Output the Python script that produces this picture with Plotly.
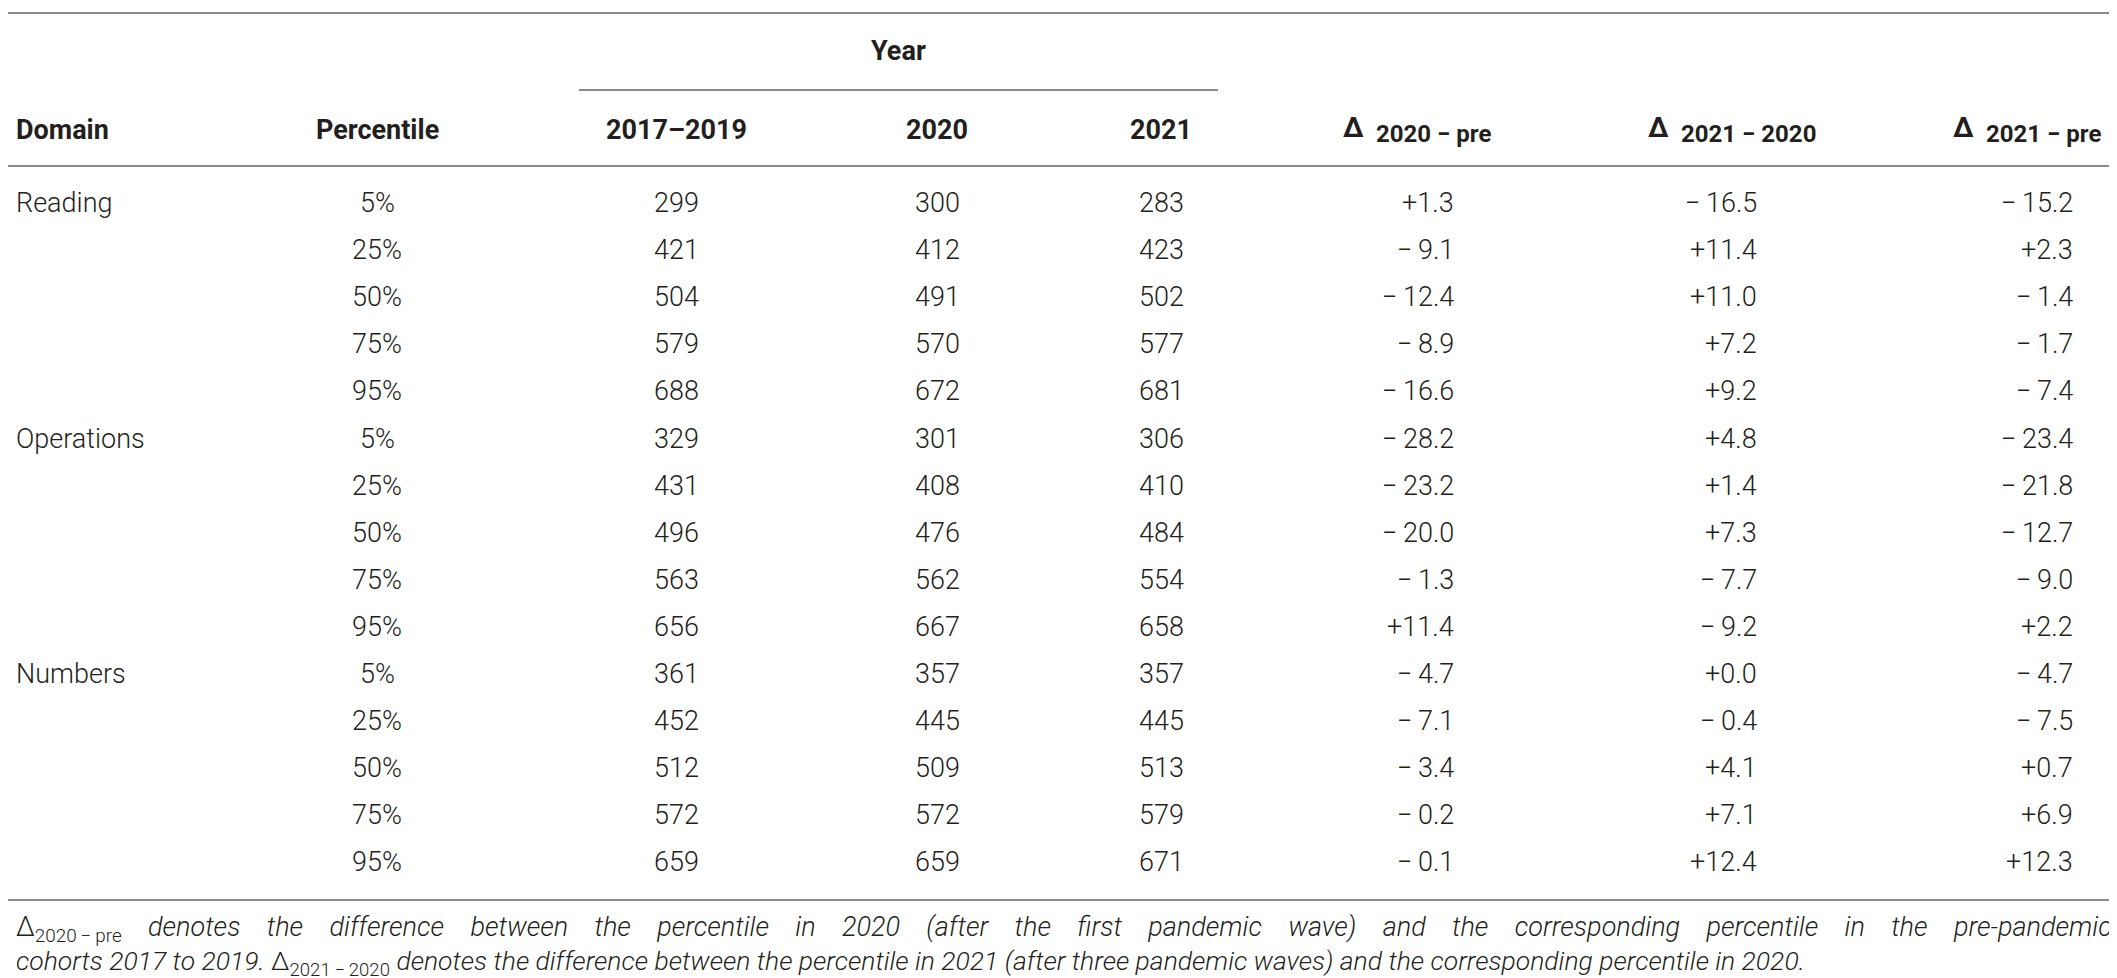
import plotly.graph_objects as go

# ---------------- data ----------------
domains = ["Reading", "Operations", "Numbers"]
percentiles = ["5%", "25%", "50%", "75%", "95%"]
year_labels = ["2017–2019", "2020", "2021"]
delta_labels = ["2020 – pre", "2021 – 2020", "2021 – pre"]

pre_2017_2019 = [299, 421, 504, 579, 688, 329, 431, 496, 563, 656, 361, 452, 512, 572, 659]
y2020 = [300, 412, 491, 570, 672, 301, 408, 476, 562, 667, 357, 445, 509, 572, 659]
y2021 = [283, 423, 502, 577, 681, 306, 410, 484, 554, 658, 357, 445, 513, 579, 671]
d_2020_pre = [1.3, -9.1, -12.4, -8.9, -16.6, -28.2, -23.2, -20.0, -1.3, 11.4, -4.7, -7.1, -3.4, -0.2, -0.1]
d_2021_2020 = [-16.5, 11.4, 11.0, 7.2, 9.2, 4.8, 1.4, 7.3, -7.7, -9.2, 0.0, -0.4, 4.1, 7.1, 12.4]
d_2021_pre = [-15.2, 2.3, -1.4, -1.7, -7.4, -23.4, -21.8, -12.7, -9.0, 2.2, -4.7, -7.5, 0.7, 6.9, 12.3]

footnote_1 = ("denotes the difference between the percentile in 2020 (after the first pandemic wave) "
              "and the corresponding percentile in the pre-pandemic")
footnote_2a = "cohorts 2017 to 2019."
footnote_2b = "denotes the difference between the percentile in 2021 (after three pandemic waves) and the corresponding percentile in 2020."

# ---------------- style / layout ----------------
W, H = 2117, 978
FONT = "Roboto"
TXT = "#231f20"
LINE = "#8a8a8a"
FS = 27

ROW0, STEP = 195, 47.1
X_DOMAIN = 6
X_PCT = 369
X_YEARS = [668, 929, 1153]
X_DELTA_HDR = [1410, 1715, 2020]
X_DELTA_VAL = [1448, 1751, 2067]


def fmt(v):
    if v < 0:
        return "\u2212\u2009" + f"{abs(v):.1f}"
    return "+" + f"{v:.1f}"


fig = go.Figure()
ann = []


def add(text, x, y, xanchor="center", size=FS, weight=300, italic=False, yshift=0):
    ann.append(dict(text=text, x=x, y=y, xref="x", yref="y", xanchor=xanchor, yanchor="middle",
                    showarrow=False, yshift=yshift,
                    font=dict(family=FONT, size=size, color=TXT, weight=weight,
                              style="italic" if italic else "normal")))


# header
add("Year", (571 + 1210) / 2, 43, weight=700)
add("Domain", X_DOMAIN, 122, xanchor="left", weight=700)
add("Percentile", X_PCT, 122, weight=700)
for lbl, x in zip(year_labels, X_YEARS):
    add(lbl, x, 122, weight=700)
for lbl, x in zip(delta_labels, X_DELTA_HDR):
    add("Δ", x - 52, 119, xanchor="right", weight=700, size=28)
    add(lbl.replace("–", "\u2212"), x - 44, 126, xanchor="left", weight=700, size=24)

# body
n = len(pre_2017_2019)
for i in range(n):
    y = ROW0 + i * STEP
    if i % len(percentiles) == 0:
        add(domains[i // len(percentiles)], X_DOMAIN, y, xanchor="left")
    add(percentiles[i % len(percentiles)], X_PCT, y)
    for col, x in zip([pre_2017_2019, y2020, y2021], X_YEARS):
        add(str(col[i]), x, y)
    for col, x in zip([d_2020_pre, d_2021_2020, d_2021_pre], X_DELTA_VAL):
        add(fmt(col[i]), x, y, xanchor="right")

# footnote (first line justified by widened word gaps)
NB = "\u00a0"
words = footnote_1.split(" ")
gap = NB * 4
line1 = "Δ<sub>2020\u2009\u2212\u2009pre</sub>" + gap + gap.join(f"<i>{w}</i>" for w in words)
add(line1, X_DOMAIN, 921, xanchor="left", size=FS)
line2 = f"<i>{footnote_2a}</i> Δ<sub>2021\u2009\u2212\u20092020</sub> <i>{footnote_2b}</i>"
add(line2, X_DOMAIN, 955, xanchor="left", size=26.5)

shapes = []
for (x0, x1, y) in [(0, W, 5), (571, 1210, 82), (0, W, 158), (0, W, 892)]:
    shapes.append(dict(type="line", xref="x", yref="y", x0=x0, x1=x1, y0=y, y1=y,
                       line=dict(color=LINE, width=2)))

fig.update_layout(
    width=W, height=H, margin=dict(l=0, r=0, t=0, b=0),
    paper_bgcolor="white", plot_bgcolor="white",
    xaxis=dict(range=[0, W], visible=False, fixedrange=True),
    yaxis=dict(range=[H, 0], visible=False, fixedrange=True),
    annotations=ann, shapes=shapes, showlegend=False,
)
fig.write_html("out.html")
